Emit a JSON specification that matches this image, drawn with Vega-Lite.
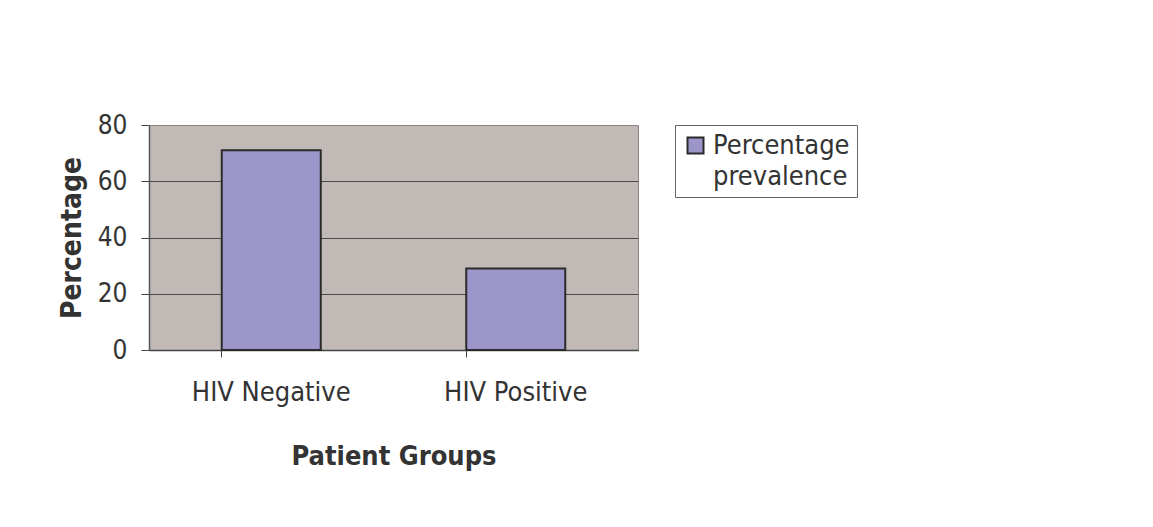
{
  "$schema": "https://vega.github.io/schema/vega-lite/v6.json",
  "autosize": {"type": "none"},
  "width": 489,
  "height": 225,
  "padding": {"left": 149, "top": 125, "right": 515, "bottom": 177},
  "background": "white",
  "data": {
    "values": [
      {"group": "HIV Negative", "percentage": 71, "series": "Percentage prevalence"},
      {"group": "HIV Positive", "percentage": 29, "series": "Percentage prevalence"}
    ]
  },
  "mark": {"type": "bar", "stroke": "#2b2b2b", "strokeWidth": 2},
  "encoding": {
    "x": {
      "field": "group",
      "type": "nominal",
      "sort": null,
      "scale": {"paddingInner": 0.595, "paddingOuter": 0.2975},
      "axis": {
        "title": "Patient Groups",
        "labelAngle": 0,
        "bandPosition": 0,
        "tickSize": 7,
        "tickColor": "#444",
        "domainColor": "#444",
        "labelBaseline": "alphabetic",
        "labelPadding": 43,
        "titleX": 244.5,
        "titleY": 114,
        "titleBaseline": "alphabetic",
        "titleAlign": "center"
      }
    },
    "y": {
      "field": "percentage",
      "type": "quantitative",
      "scale": {"domain": [0, 80], "nice": false},
      "axis": {
        "title": "Percentage",
        "values": [0, 20, 40, 60, 80],
        "tickSize": 8,
        "tickColor": "#444",
        "domainColor": "#555",
        "labelPadding": 14,
        "labelFontSize": 26,
        "gridColor": {"condition": {"test": "datum.value === 80", "value": "transparent"}, "value": "#4a4a4a"},
        "titleX": -77,
        "titleY": 112.5,
        "titleAngle": -90,
        "titleBaseline": "middle",
        "titleAlign": "center",
        "titleFontSize": 28
      }
    },
    "color": {
      "field": "series",
      "type": "nominal",
      "scale": {"range": ["#9b95c9"]},
      "legend": {
        "title": null,
        "orient": "none",
        "legendX": 526,
        "legendY": 0,
        "strokeColor": "#666",
        "fillColor": "white",
        "padding": 7,
        "symbolType": "square",
        "symbolSize": 256,
        "symbolStrokeColor": "#2b2b2b",
        "symbolStrokeWidth": 2,
        "symbolOpacity": 1,
        "labelExpr": "['Percentage', 'prevalence']",
        "labelOffset": 4,
        "encode": {"labels": {"update": {"lineHeight": {"value": 31}}}}
      }
    }
  },
  "config": {
    "view": {"fill": "#c1b9b6", "stroke": "#8d8583", "strokeWidth": 1},
    "axis": {
      "labelFont": "DejaVu Sans Condensed, DejaVu Sans",
      "labelFontSize": 27,
      "labelColor": "#333",
      "titleFont": "DejaVu Sans Condensed, DejaVu Sans",
      "titleFontSize": 27,
      "titleFontWeight": "bold",
      "titleColor": "#333",
      "gridWidth": 1,
      "domainWidth": 1.5
    },
    "legend": {
      "labelFont": "DejaVu Sans Condensed, DejaVu Sans",
      "labelFontSize": 27,
      "labelColor": "#333",
      "labelLimit": 300
    }
  }
}
